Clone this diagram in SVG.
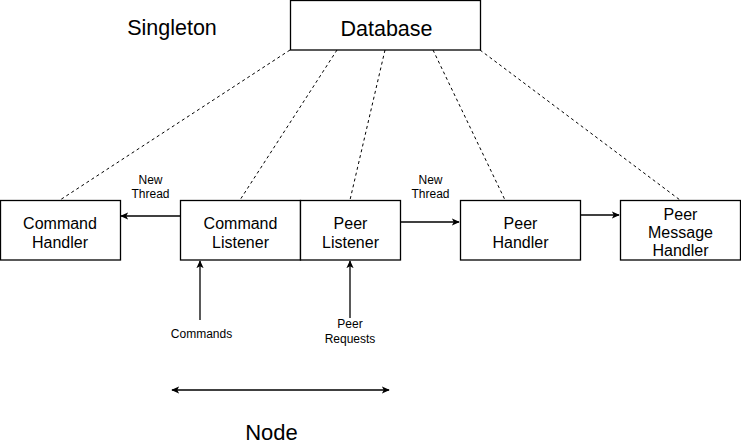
<svg xmlns="http://www.w3.org/2000/svg" width="741" height="444" viewBox="0 0 741 444">
<defs>
<style>
.box{fill:#fff;stroke:#000;stroke-width:1.3}
.t{font-family:"Liberation Sans",Arial,sans-serif;fill:#000;text-anchor:middle}
.big{font-size:21.5px}
.mid{font-size:16px}
.sm{font-size:12px}
.dash{fill:none;stroke:#000;stroke-width:1;stroke-dasharray:3 3}
.arr{fill:none;stroke:#000;stroke-width:1.3}
</style>
<marker id="ah" viewBox="0 0 10 10" refX="9" refY="5" markerWidth="8" markerHeight="8" orient="auto-start-reverse" markerUnits="userSpaceOnUse">
<path d="M0,0.5 L10,5 L0,9.5 L2.5,5 Z" fill="#000"/>
</marker>
</defs>
<rect width="741" height="444" fill="#fff"/>
<g id="connectors">
<line class="dash" x1="290" y1="50" x2="60" y2="200"/>
<line class="dash" x1="337" y1="50" x2="240" y2="200"/>
<line class="dash" x1="385" y1="50" x2="350" y2="200"/>
<line class="dash" x1="433" y1="50" x2="505" y2="200"/>
<line class="dash" x1="480" y1="50" x2="680" y2="200"/>
<line class="arr" x1="180" y1="216" x2="121" y2="216" marker-end="url(#ah)"/>
<line class="arr" x1="400" y1="222" x2="459" y2="222" marker-end="url(#ah)"/>
<line class="arr" x1="580" y1="215" x2="619" y2="215" marker-end="url(#ah)"/>
<line class="arr" x1="200" y1="320" x2="200" y2="261" marker-end="url(#ah)"/>
<line class="arr" x1="350" y1="318" x2="350" y2="261" marker-end="url(#ah)"/>
<line class="arr" x1="172" y1="390" x2="389" y2="390" marker-start="url(#ah)" marker-end="url(#ah)"/>
<text class="t sm" x="150.5" y="184">New</text>
<text class="t sm" x="150.5" y="198">Thread</text>
<text class="t sm" x="430.5" y="184">New</text>
<text class="t sm" x="430.5" y="198">Thread</text>
<text class="t sm" x="201.5" y="338">Commands</text>
<text class="t sm" x="350" y="328">Peer</text>
<text class="t sm" x="350" y="343">Requests</text>
</g>
<g id="singleton"><text class="t big" x="172" y="35">Singleton</text></g>
<g id="database">
<rect class="box" x="290.5" y="0.5" width="190" height="49.5"/>
<text class="t big" x="386.5" y="36">Database</text>
</g>
<g id="command-handler">
<rect class="box" x="0.5" y="200.5" width="120" height="59.5"/>
<text class="t mid" x="60" y="228.5">Command</text>
<text class="t mid" x="60" y="247.5">Handler</text>
</g>
<g id="command-listener">
<rect class="box" x="180.5" y="200.5" width="120" height="59.5"/>
<text class="t mid" x="240.5" y="228.5">Command</text>
<text class="t mid" x="240.5" y="247.5">Listener</text>
</g>
<g id="peer-listener">
<rect class="box" x="300.5" y="200.5" width="100" height="59.5"/>
<text class="t mid" x="350.5" y="228.5">Peer</text>
<text class="t mid" x="350.5" y="247.5">Listener</text>
</g>
<g id="peer-handler">
<rect class="box" x="460.5" y="200.5" width="120" height="59.5"/>
<text class="t mid" x="520.5" y="228.5">Peer</text>
<text class="t mid" x="520.5" y="247.5">Handler</text>
</g>
<g id="peer-message-handler">
<rect class="box" x="620.5" y="200.5" width="120" height="59.5"/>
<text class="t mid" x="680.5" y="219.5">Peer</text>
<text class="t mid" x="680.5" y="237.5">Message</text>
<text class="t mid" x="680.5" y="256">Handler</text>
</g>
<g id="node-label"><text class="t" style="font-size:22px" x="271.5" y="440">Node</text></g>
</svg>
